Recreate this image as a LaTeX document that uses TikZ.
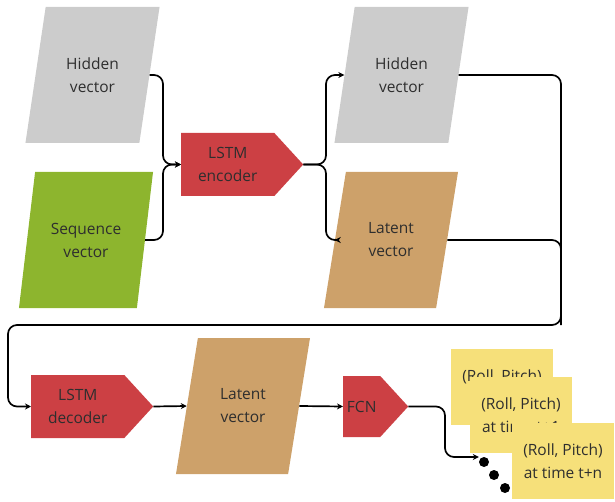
\documentclass[tikz,border=0pt]{standalone}
\usepackage{fontspec}
\setmainfont{Open Sans}
\usetikzlibrary{shapes.geometric,shapes.symbols,arrows.meta}
\definecolor{hidgray}{HTML}{CCCCCC}
\definecolor{seqgreen}{HTML}{8DB52E}
\definecolor{lattan}{HTML}{CDA16A}
\definecolor{lstmred}{HTML}{CC4044}
\definecolor{outyellow}{HTML}{F6E07A}

\begin{document}
\begin{tikzpicture}[x=1pt, y=-1pt,
    every node/.style={font=\fontsize{15.5}{23}\selectfont, text=black!82},
    vecbox/.style={trapezium, trapezium left angle=72, trapezium right angle=108,
      trapezium stretches=true, minimum width=135pt, minimum height=136pt,
      inner sep=0pt, align=center},
    lstmbox/.style={signal, signal to=east, signal pointer angle=95, fill=lstmred,
      minimum height=63pt, inner sep=0pt, align=center, anchor=west},
    outbox/.style={rectangle, fill=outyellow, minimum width=102pt,
      minimum height=76pt, inner sep=0pt, align=center},
    link/.style={line width=1.7pt, rounded corners=9pt},
    tip/.style={-{Stealth[length=6pt, width=6pt]}}]
  \useasboundingbox (0,0) rectangle (615,502);

  \node[vecbox, fill=hidgray] (hid1) at (92.5, 75) {Hidden\\vector};
  \node[vecbox, fill=seqgreen] (seq) at (86, 240) {Sequence\\vector};
  \node[lstmbox, minimum width=122pt] (enc) at (181, 164.5) {LSTM\\encoder};
  \node[vecbox, fill=hidgray] (hid2) at (401.5, 75) {Hidden\\vector};
  \node[vecbox, fill=lattan] (lat1) at (391, 240) {Latent\\vector};

  \node[lstmbox, minimum width=122pt] (dec) at (31, 406.5) {LSTM\\decoder};
  \node[vecbox, fill=lattan] (lat2) at (243, 406) {Latent\\vector};
  \node[lstmbox, minimum width=65pt, minimum height=61pt] (fcn) at (343, 406.5) {FCN};

  \coordinate (jin) at (163, 164.5);
  \coordinate (jout) at (326, 164.5);
  \coordinate (rt) at (561, 325);
  \coordinate (lf) at (8, 325);
  \coordinate (bend) at (445, 457);

  \draw[link, tip] (hid1.east) -| (jin) -- (enc.west);
  \draw[link, tip] (seq.east) -| (jin) -- (enc.west);
  \draw[link, tip] (enc.east) -- (jout) |- (hid2.west);
  \draw[link, tip] (enc.east) -- (jout) |- (lat1.west);
  \draw[link] (lat1.east) -| (rt);
  \draw[link, tip] (hid2.east) -| (rt) -- (lf) |- (dec.west);
  \draw[link, tip] (dec.east) -- (lat2.west);
  \draw[link, tip] (lat2.east) -- (fcn.west);

  \foreach \i/\x/\y in {1/484/462, 2/494/475, 3/505/488}
  {
    \node[circle, fill=black, minimum size=10pt, inner sep=0pt] (d\i) at (\x, \y) {};
  }
  \draw[link, tip] (fcn.east) -| (bend) -- (bend -| d1.west);

  \node[outbox] (pt0) at (502, 387) {(Roll, Pitch)\\at time t};
  \node[outbox] (pt1) at (521, 415) {(Roll, Pitch)\\at time t+1};
  \node[outbox] (ptn) at (563, 461) {(Roll, Pitch)\\at time t+n};
\end{tikzpicture}
\end{document}
